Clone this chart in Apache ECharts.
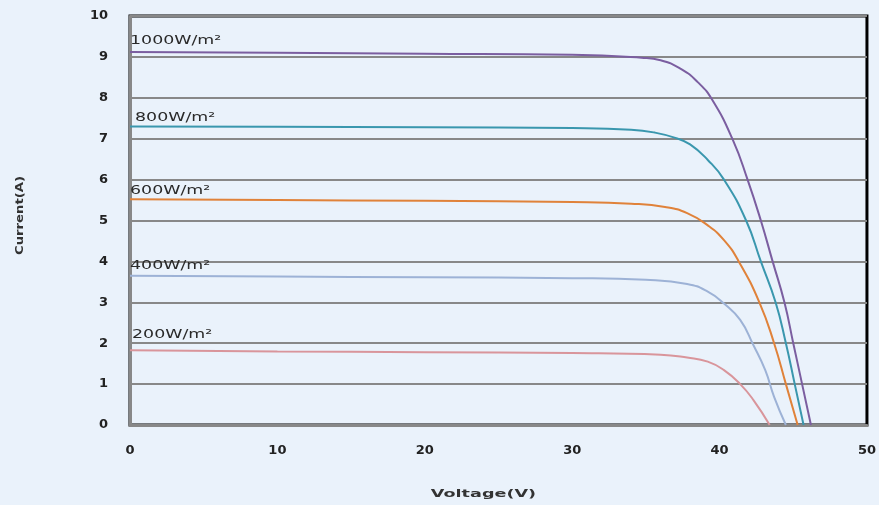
<!DOCTYPE html>
<html><head><meta charset="utf-8">
<script src="https://cdn.jsdelivr.net/npm/echarts@6/dist/echarts.min.js"></script>
<style>html,body{margin:0;padding:0;background:#EAF2FB;}#c{width:879px;height:505px;}</style>
</head><body><div id="c"></div>
<script>
const seriesNames = ['1000W/m²','800W/m²','600W/m²','400W/m²','200W/m²'];
const colors = ['#7B5EA0','#3A97AE','#E0823A','#9DB2D6','#D9959B'];
const volt1000 = [0, 10, 20, 30, 34.7, 36.0, 37.4, 38.5, 39.5, 40.9, 41.9, 42.8, 43.6, 44.4, 45.0, 45.6, 46.2];
const curr1000 = [9.12, 9.1, 9.08, 9.05, 8.98, 8.92, 8.7, 8.39, 7.95, 6.97, 6.0, 5.0, 4.0, 3.0, 2.0, 1.0, 0];
const volt800 = [0, 10, 20, 30, 34, 35.6, 37.0, 38.0, 39.2, 40.3, 41.8, 42.8, 43.8, 44.5, 45.1, 45.7];
const curr800 = [7.3, 7.29, 7.28, 7.26, 7.22, 7.15, 7.02, 6.86, 6.48, 6.0, 5.0, 4.0, 3.0, 2.0, 1.0, 0];
const volt600 = [0, 10, 20, 30, 34, 36.3, 37.8, 39.2, 40.3, 41.3, 42.7, 43.7, 44.5, 45.3];
const curr600 = [5.52, 5.5, 5.48, 5.45, 5.41, 5.33, 5.18, 4.88, 4.52, 4.0, 3.0, 2.0, 1.0, 0];
const volt400 = [0, 10, 20, 30, 35, 37.8, 39.2, 40.3, 41.4, 42.3, 43.1, 43.7, 44.5];
const curr400 = [3.65, 3.63, 3.61, 3.59, 3.55, 3.45, 3.26, 2.97, 2.57, 1.95, 1.34, 0.69, 0];
const volt200 = [0, 10, 20, 30, 36, 37.8, 39.2, 40.3, 41.4, 42.3, 43.4];
const curr200 = [1.83, 1.8, 1.78, 1.76, 1.72, 1.65, 1.55, 1.34, 1.0, 0.61, 0];
const xTicks = [0, 10, 20, 30, 40, 50];
const yTicks = [0,1,2,3,4,5,6,7,8,9,10];
const xName = 'Voltage(V)';
const yName = 'Current(A)';

// label placement (style, not data): [dx, dy above the line start]
const labelOffsets = [[0,5],[5,3],[0,2],[0,4],[2,9]];

const volts = [volt1000, volt800, volt600, volt400, volt200];
const currs = [curr1000, curr800, curr600, curr400, curr200];

const chart = echarts.init(document.getElementById('c'));
const series = seriesNames.map((n, i) => ({
  name: n, type: 'line', smooth: 0.5,
  showSymbol: false,
  lineStyle: { color: colors[i], width: 2 },
  itemStyle: { color: colors[i] },
  data: volts[i].map((v, k) => [v, currs[i][k]])
}));

const tickFont = { color: '#222', fontSize: 13, fontWeight: 'bold', fontFamily: 'DejaVu Sans' };

chart.setOption({
  backgroundColor: '#EAF2FB',
  animation: false,
  grid: { left: 130, right: 8, top: 16, bottom: 80, show: true, borderColor: '#000', borderWidth: 3, backgroundColor: 'transparent' },
  xAxis: {
    type: 'value', min: 0, max: 50, interval: 10,
    axisLine: { show: true, lineStyle: { color: '#888', width: 3 } },
    axisTick: { show: false },
    splitLine: { show: false },
    axisLabel: Object.assign({ margin: 19, formatter: v => xTicks.includes(v) ? String(v) : '' }, tickFont)
  },
  yAxis: {
    type: 'value', min: 0, max: 10, interval: 1,
    axisLine: { show: true, lineStyle: { color: '#888', width: 3 } },
    axisTick: { show: false },
    splitLine: { show: true, lineStyle: { color: '#888', width: 2 } },
    axisLabel: Object.assign({ margin: 22, formatter: v => yTicks.includes(v) ? String(v) : '' }, tickFont)
  },
  series: series
});

const g = [];
seriesNames.forEach((n, i) => {
  const p = chart.convertToPixel({ gridIndex: 0 }, [volts[i][0], currs[i][0]]);
  g.push({
    type: 'text', x: p[0] + labelOffsets[i][0], y: p[1] - labelOffsets[i][1], scaleX: 1.45, z: 10,
    style: { text: n, fill: '#2a2a2a', font: '12px "DejaVu Sans"', textAlign: 'left', textVerticalAlign: 'bottom' }
  });
});
const gridRect = chart.getModel().getComponent('grid').coordinateSystem.getRect();
g.push({
  type: 'text', x: gridRect.x + gridRect.width / 2 - 15, y: 494, scaleX: 1.6,
  style: { text: xName, fill: '#333', font: 'bold 11px "DejaVu Sans"', textAlign: 'center', textVerticalAlign: 'middle' }
});
g.push({
  type: 'text', x: 20, y: gridRect.y + gridRect.height / 2 - 5, rotation: Math.PI / 2, scaleX: 1.2,
  style: { text: yName, fill: '#333', font: 'bold 11px "DejaVu Sans"', textAlign: 'center', textVerticalAlign: 'middle' }
});
chart.setOption({ graphic: g });
</script></body></html>
